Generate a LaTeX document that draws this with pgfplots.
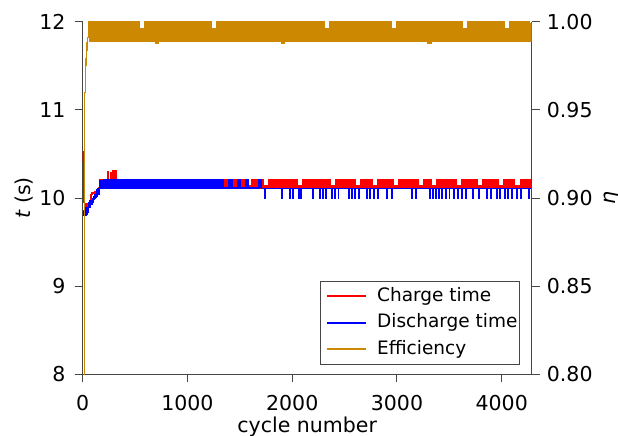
\documentclass[border=0pt]{standalone}
\usepackage{fontspec}
\setmainfont{DejaVu Sans}
\usepackage{pgfplots}
\pgfplotsset{compat=1.18}
\definecolor{cChg}{RGB}{255,0,0}
\definecolor{cDis}{RGB}{0,0,255}
\definecolor{cEff}{RGB}{204,136,0}
\definecolor{axgray}{RGB}{70,70,70}
\newcommand\tickfont{\fontsize{20.5bp}{24bp}\selectfont}

\pgfplotsset{
  base/.style={
    at={(82.7bp,-374.3bp)}, anchor=south west,
    scale only axis, width=449bp, height=352.6bp,
    xmin=0, xmax=4286,
    axis line style={axgray, line width=1bp},
    tick style={axgray, line width=1bp},
    major tick length=8bp,
    tick align=outside,
    tick label style={font=\tickfont, black},
    label style={font=\tickfont},
    /pgf/number format/assume math mode=true,
  },
  thin/.style={const plot, line width=1.4bp},
  band/.style={const plot, line width=2.2bp},
}

\begin{document}
\begin{tikzpicture}
\begin{axis}[base,
  axis x line*=bottom, axis y line*=left,
  ymin=8, ymax=12, ytick={8,9,10,11,12},
  xtick={0,1000,2000,3000,4000},
  /pgf/number format/1000 sep={},
  xticklabel style={anchor=base, yshift=-27.7bp},
  yticklabel style={anchor=east, inner sep=0bp, xshift=-9bp},
  xlabel={cycle number},
  xlabel style={at={(axis description cs:0.5,0)}, anchor=base, yshift=-58.5bp},
  ylabel={\textit{t} (s)},
  ylabel style={at={(axis description cs:-0.117,0.5)}, anchor=base},
]
% charge time, first cycles
\addplot[color=cChg, thin] table[row sep=\\] {x y\\
1 10.52\\3 10.42\\6 10.20\\9 10.02\\13 9.95\\18 9.91\\24 9.90\\30 9.93\\36 9.91\\42 9.94\\
48 9.92\\54 9.95\\60 9.93\\66 9.97\\72 9.95\\78 10.04\\90 10.06\\100 10.05\\110 10.07\\120 10.05\\
130 10.07\\140 10.06\\150 10.12\\160 10.2\\
};
% charge time, steady state
\addplot[color=cChg, band] table[row sep=\\] {x y\\
160 10.2\\180 10.11\\200 10.2\\220 10.11\\240 10.29\\245 10.11\\270 10.28\\
275 10.11\\290 10.31\\295 10.11\\310 10.3\\315 10.11\\360 10.2\\400 10.11\\440 10.2\\480 10.11\\520 10.2\\
560 10.11\\600 10.2\\640 10.11\\680 10.2\\720 10.11\\760 10.2\\800 10.11\\840 10.2\\880 10.11\\920 10.2\\
960 10.11\\1000 10.2\\1040 10.11\\1080 10.2\\1120 10.11\\1160 10.2\\1200 10.11\\1240 10.2\\1280 10.11\\
1300 10.2\\1320 10.11\\1340 10.2\\1360 10.11\\1380 10.2\\1400 10.11\\1420 10.2\\1440 10.11\\1460 10.2\\1480 10.11\\
1500 10.2\\1520 10.11\\1540 10.2\\1560 10.11\\1580 10.13\\1600 10.11\\1620 10.2\\1640 10.11\\1660 10.2\\1680 10.11\\
1700 10.2\\1720 10.11\\1740 10.13\\1760 10.11\\1780 10.2\\1800 10.11\\1820 10.2\\1840 10.11\\1860 10.2\\1880 10.11\\
1900 10.2\\1920 10.11\\1940 10.2\\1960 10.11\\1980 10.2\\2000 10.11\\2020 10.2\\2040 10.11\\2060 10.13\\2080 10.11\\
2100 10.2\\2120 10.11\\2140 10.2\\2160 10.11\\2180 10.2\\2200 10.11\\2220 10.2\\2240 10.11\\2260 10.2\\2280 10.11\\
2300 10.2\\2320 10.11\\2340 10.2\\2360 10.11\\2380 10.13\\2400 10.11\\2420 10.2\\2440 10.11\\2460 10.2\\2480 10.11\\
2500 10.2\\2520 10.11\\2540 10.2\\2560 10.11\\2580 10.2\\2600 10.11\\2620 10.13\\2640 10.11\\2660 10.2\\2680 10.11\\
2700 10.2\\2720 10.11\\2740 10.2\\2760 10.11\\2780 10.13\\2800 10.11\\2820 10.2\\2840 10.11\\2860 10.2\\2880 10.11\\
2900 10.2\\2920 10.11\\2940 10.2\\2960 10.11\\2980 10.13\\3000 10.11\\3020 10.2\\3040 10.11\\3060 10.2\\3080 10.11\\
3100 10.2\\3120 10.11\\3140 10.2\\3160 10.11\\3180 10.2\\3200 10.11\\3220 10.13\\3240 10.11\\3260 10.2\\3280 10.11\\
3300 10.2\\3320 10.11\\3340 10.13\\3360 10.11\\3380 10.2\\3400 10.11\\3420 10.2\\3440 10.11\\3460 10.2\\3480 10.11\\
3500 10.2\\3520 10.11\\3540 10.2\\3560 10.11\\3580 10.13\\3600 10.11\\3620 10.2\\3640 10.11\\3660 10.2\\3680 10.11\\
3700 10.2\\3720 10.11\\3740 10.2\\3760 10.11\\3780 10.13\\3800 10.11\\3820 10.2\\3840 10.11\\3860 10.2\\3880 10.11\\
3900 10.2\\3920 10.11\\3940 10.2\\3960 10.11\\3980 10.13\\4000 10.11\\4020 10.2\\4040 10.11\\4060 10.2\\4080 10.11\\
4100 10.2\\4120 10.11\\4140 10.13\\4160 10.11\\4180 10.2\\4200 10.11\\4220 10.2\\4240 10.11\\4260 10.2\\4280 10.11\\
4286 10.2\\
};
% discharge time, first cycles
\addplot[color=cDis, thin] table[row sep=\\] {x y\\
10 9.86\\13 9.80\\16 9.88\\20 9.81\\24 9.89\\28 9.80\\32 9.88\\36 9.82\\40 9.89\\44 9.81\\
48 9.88\\52 9.84\\56 9.90\\60 9.95\\64 9.90\\68 9.97\\72 9.92\\76 9.97\\82 9.93\\88 9.97\\
94 9.95\\100 9.99\\106 10.02\\112 10.0\\118 10.04\\124 10.01\\130 10.09\\136 10.02\\142 10.1\\148 10.04\\
154 10.1\\160 10.19\\
};
% discharge time, steady state
\addplot[color=cDis, band] table[row sep=\\] {x y\\
160 10.19\\180 10.11\\200 10.2\\220 10.11\\240 10.2\\260 10.11\\280 10.2\\300 10.11\\320 10.2\\
340 10.11\\360 10.2\\380 10.11\\400 10.2\\420 10.11\\440 10.2\\460 10.11\\480 10.2\\500 10.11\\520 10.2\\
540 10.11\\560 10.2\\580 10.11\\600 10.2\\620 10.11\\640 10.2\\660 10.11\\680 10.2\\700 10.11\\720 10.2\\
740 10.11\\760 10.2\\780 10.11\\800 10.2\\820 10.11\\840 10.2\\860 10.11\\880 10.2\\900 10.11\\920 10.2\\
940 10.11\\960 10.2\\980 10.11\\1000 10.2\\1020 10.11\\1040 10.2\\1060 10.11\\1080 10.2\\1100 10.11\\1120 10.2\\
1140 10.11\\1160 10.2\\1180 10.11\\1200 10.2\\1220 10.11\\1240 10.2\\1260 10.11\\1280 10.2\\1300 10.11\\1320 10.2\\
1340 10.11\\1360 10.11\\1380 10.11\\1400 10.2\\1420 10.11\\1440 10.11\\1460 10.11\\1480 10.2\\1500 10.11\\1520 10.11\\
1540 10.11\\1560 10.2\\1580 10.11\\1600 10.11\\1620 10.11\\1640 10.11\\1660 10.11\\1680 10.2\\1700 10.11\\
};
% discharge time, late cycles
\addplot[color=cDis, const plot, line width=1.6bp] table[row sep=\\] {x y\\
1700 10.11\\
1737 10.11\\1740 10.0\\1743 10.11\\1897 10.11\\1900 10.0\\1903 10.11\\1977 10.11\\1980 10.0\\1983 10.11\\
2007 10.11\\2010 10.0\\2013 10.11\\2057 10.11\\2060 10.0\\2063 10.11\\2077 10.11\\2080 10.0\\2083 10.11\\
2197 10.11\\2200 10.0\\2203 10.11\\2257 10.11\\2260 10.0\\2263 10.11\\2287 10.11\\2290 10.0\\2293 10.11\\
2317 10.11\\2320 10.0\\2323 10.11\\2377 10.11\\2380 10.0\\2383 10.11\\2407 10.11\\2410 10.0\\2413 10.11\\
2437 10.11\\2440 10.0\\2443 10.11\\2537 10.11\\2540 10.0\\2543 10.11\\2567 10.11\\2570 10.0\\2573 10.11\\
2597 10.11\\2600 10.0\\2603 10.11\\2637 10.11\\2640 10.0\\2643 10.11\\2707 10.11\\2710 10.0\\2713 10.11\\
2737 10.11\\2740 10.0\\2743 10.11\\2777 10.11\\2780 10.0\\2783 10.11\\2817 10.11\\2820 10.0\\2823 10.11\\
2897 10.11\\2900 10.0\\2903 10.11\\2947 10.11\\2950 10.0\\2953 10.11\\3137 10.11\\3140 10.0\\3143 10.11\\
3177 10.11\\3180 10.0\\3183 10.11\\3307 10.11\\3310 10.0\\3313 10.11\\3337 10.11\\3340 10.0\\3343 10.11\\
3367 10.11\\3370 10.0\\3373 10.11\\3397 10.11\\3400 10.0\\3403 10.11\\3427 10.11\\3430 10.0\\3433 10.11\\
3467 10.11\\3470 10.0\\3473 10.11\\3497 10.11\\3500 10.0\\3503 10.11\\3537 10.11\\3540 10.0\\3543 10.11\\
3577 10.11\\3580 10.0\\3583 10.11\\3617 10.11\\3620 10.0\\3623 10.11\\3657 10.11\\3660 10.0\\3663 10.11\\
3717 10.11\\3720 10.0\\3723 10.11\\3777 10.11\\3780 10.0\\3783 10.11\\3857 10.11\\3860 10.0\\3863 10.11\\
3897 10.11\\3900 10.0\\3903 10.11\\3947 10.11\\3950 10.0\\3953 10.11\\3977 10.11\\3980 10.0\\3983 10.11\\
4027 10.11\\4030 10.0\\4033 10.11\\4057 10.11\\4060 10.0\\4063 10.11\\4097 10.11\\4100 10.0\\4103 10.11\\
4137 10.11\\4140 10.0\\4143 10.11\\4177 10.11\\4180 10.0\\4183 10.11\\4257 10.11\\4260 10.0\\4263 10.11\\
4286 10.11\\
};
\end{axis}

\begin{axis}[base,
  axis y line*=right, axis x line=none,
  ymin=0.8, ymax=1.0, ytick={0.8,0.85,0.9,0.95,1.0},
  yticklabel style={/pgf/number format/.cd, fixed, fixed zerofill, precision=2, /tikz/.cd,
    anchor=west, inner sep=0bp, xshift=7bp},
  ylabel={\textit{η}},
  ylabel style={at={(axis description cs:1.187,0.5)}, anchor=base},
  legend style={at={(axis description cs:1,0)}, anchor=south east,
    xshift=-12.4bp, yshift=9.3bp, draw=axgray, line width=0.7bp, fill=white,
    font=\fontsize{18.5bp}{21bp}\selectfont, inner xsep=1.5bp, inner ysep=6bp,
    row sep=8bp, column sep=0bp,
    nodes={inner sep=0bp, text height=14bp, text depth=4.5bp, anchor=west}},
  legend cell align=left,
  legend image code/.code={\draw[#1, line width=2bp] (4.8bp,0bp) -- (43.8bp,0bp);
    \path[draw=none] (0bp,0bp) -- (54.8bp,0bp);},
]
\addlegendimage{color=cChg, draw=cChg}
\addlegendentry{Charge time}
\addlegendimage{color=cDis, draw=cDis}
\addlegendentry{Discharge time}
% efficiency, first cycles
\addplot[color=cEff, draw=cEff, thin, forget plot] table[row sep=\\] {x y\\
2 0.78\\15 0.953\\20 0.96\\24 0.975\\30 0.979\\36 0.984\\42 0.988\\48 0.991\\54 0.9995\\
};
% efficiency, steady state
\addplot[color=cEff, draw=cEff, band] table[row sep=\\] {x y\\
54 0.9995\\70 0.989\\80 0.9995\\100 0.989\\120 0.9995\\140 0.989\\160 0.9995\\180 0.989\\200 0.9995\\220 0.989\\240 0.9995\\260 0.989\\
280 0.9995\\300 0.989\\320 0.9995\\340 0.989\\360 0.9995\\380 0.989\\400 0.9995\\420 0.989\\440 0.9995\\460 0.989\\
480 0.9995\\500 0.989\\520 0.9995\\540 0.989\\560 0.996\\580 0.989\\600 0.9995\\620 0.989\\640 0.9995\\660 0.989\\
680 0.9995\\700 0.988\\720 0.9995\\740 0.989\\760 0.9995\\780 0.989\\800 0.9995\\820 0.989\\840 0.9995\\860 0.989\\
880 0.9995\\900 0.989\\920 0.9995\\940 0.989\\960 0.9995\\980 0.989\\1000 0.9995\\1020 0.989\\1040 0.9995\\1060 0.989\\
1080 0.9995\\1100 0.989\\1120 0.9995\\1140 0.989\\1160 0.9995\\1180 0.989\\1200 0.9995\\1220 0.989\\1240 0.996\\1260 0.989\\
1280 0.9995\\1300 0.989\\1320 0.9995\\1340 0.989\\1360 0.9995\\1380 0.989\\1400 0.9995\\1420 0.989\\1440 0.9995\\1460 0.989\\
1480 0.9995\\1500 0.989\\1520 0.9995\\1540 0.989\\1560 0.9995\\1580 0.989\\1600 0.9995\\1620 0.989\\1640 0.9995\\1660 0.989\\
1680 0.9995\\1700 0.989\\1720 0.9995\\1740 0.989\\1760 0.9995\\1780 0.989\\1800 0.9995\\1820 0.989\\1840 0.9995\\1860 0.989\\
1880 0.9995\\1900 0.988\\1920 0.9995\\1940 0.989\\1960 0.9995\\1980 0.989\\2000 0.9995\\2020 0.989\\2040 0.9995\\2060 0.989\\
2080 0.9995\\2100 0.989\\2120 0.9995\\2140 0.989\\2160 0.9995\\2180 0.989\\2200 0.9995\\2220 0.989\\2240 0.9995\\2260 0.989\\
2280 0.9995\\2300 0.989\\2320 0.996\\2340 0.989\\2360 0.9995\\2380 0.989\\2400 0.9995\\2420 0.989\\2440 0.9995\\2460 0.989\\
2480 0.9995\\2500 0.989\\2520 0.9995\\2540 0.989\\2560 0.9995\\2580 0.989\\2600 0.9995\\2620 0.989\\2640 0.9995\\2660 0.989\\
2680 0.9995\\2700 0.989\\2720 0.9995\\2740 0.989\\2760 0.9995\\2780 0.989\\2800 0.9995\\2820 0.989\\2840 0.9995\\2860 0.989\\
2880 0.9995\\2900 0.989\\2920 0.9995\\2940 0.989\\2960 0.996\\2980 0.989\\3000 0.9995\\3020 0.989\\3040 0.9995\\3060 0.989\\
3080 0.9995\\3100 0.989\\3120 0.9995\\3140 0.989\\3160 0.9995\\3180 0.989\\3200 0.9995\\3220 0.989\\3240 0.9995\\3260 0.989\\
3280 0.9995\\3300 0.988\\3320 0.9995\\3340 0.989\\3360 0.9995\\3380 0.989\\3400 0.9995\\3420 0.989\\3440 0.9995\\3460 0.989\\
3480 0.9995\\3500 0.989\\3520 0.9995\\3540 0.989\\3560 0.9995\\3580 0.989\\3600 0.9995\\3620 0.989\\3640 0.996\\3660 0.989\\
3680 0.9995\\3700 0.989\\3720 0.9995\\3740 0.989\\3760 0.9995\\3780 0.989\\3800 0.9995\\3820 0.989\\3840 0.9995\\3860 0.989\\
3880 0.9995\\3900 0.989\\3920 0.9995\\3940 0.989\\3960 0.9995\\3980 0.989\\4000 0.9995\\4020 0.989\\4040 0.996\\4060 0.989\\
4080 0.9995\\4100 0.989\\4120 0.9995\\4140 0.989\\4160 0.9995\\4180 0.989\\4200 0.9995\\4220 0.989\\4240 0.9995\\4260 0.989\\
4280 0.9995\\
};
\addlegendentry{Efficiency}
\end{axis}
\pgfresetboundingbox
\path[use as bounding box] (0bp,0bp) rectangle (618bp,-436bp);
\end{tikzpicture}
\end{document}
